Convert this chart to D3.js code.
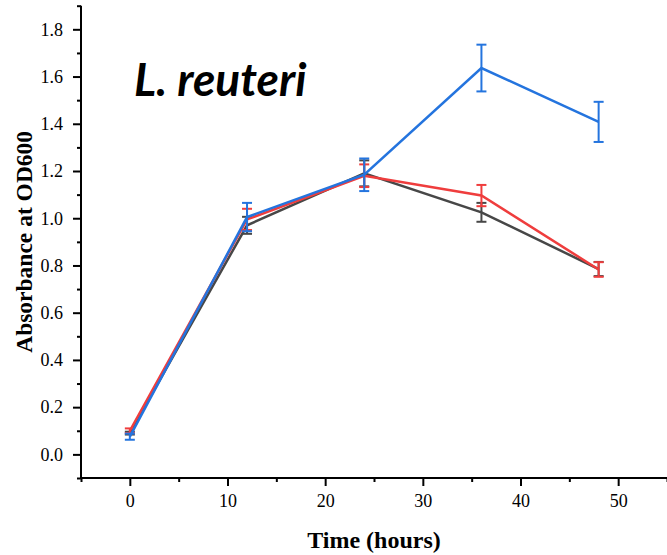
<!DOCTYPE html>
<html>
<head>
<meta charset="utf-8">
<script src="https://cdn.jsdelivr.net/npm/d3@7"></script>
<style>
  body { margin: 0; background: #fff; }
  svg { display: block; }
</style>
</head>
<body>
<div id="chart"></div>
<script>
// Données
const hours = [0, 12, 24, 36, 48];

const blackMean = [0.09, 0.97, 1.19, 1.025, 0.785];
const blackErr  = [0.006, 0.036, 0.055, 0.04, 0.03];

const redMean = [0.10, 0.995, 1.18, 1.096, 0.783];
const redErr  = [0.01, 0.045, 0.048, 0.045, 0.031];

const blueMean = [0.075, 1.005, 1.184, 1.636, 1.408];
const blueErr  = [0.013, 0.06, 0.069, 0.099, 0.085];

const yTicks = [0.0, 0.2, 0.4, 0.6, 0.8, 1.0, 1.2, 1.4, 1.6, 1.8];
const yMinor = [-0.1, 0.1, 0.3, 0.5, 0.7, 0.9, 1.1, 1.3, 1.5, 1.7, 1.9];
const xTicks = [0, 10, 20, 30, 40, 50];
const xMinor = [-5, 5, 15, 25, 35, 45, 55];

const series = [
  { name: "black", col: "#474747", mean: blackMean, err: blackErr },
  { name: "red", col: "#ef3d3d", mean: redMean, err: redErr },
  { name: "blue", col: "#2474de", mean: blueMean, err: blueErr }
];

//---------------------------------------------------------------------------------------

const width = 667;
const height = 555;

const svg = d3.select("#chart")
  .append("svg")
  .attr("width", width)
  .attr("height", height);

// échelles
const scaleX = d3.scaleLinear().domain([-5, 55]).range([81, 667]);
const scaleY = d3.scaleLinear().domain([-0.1, 1.9]).range([478, 5.7]);

const serif = "'Liberation Serif', 'Times New Roman', serif";

//---------------------------------------------------------------------------------------

// Axe des X
svg.append("g").attr("transform", `translate(0, ${scaleY(-0.1)})`)
  .call(d3.axisBottom(scaleX).tickValues(xTicks).tickSize(8).tickPadding(8).tickFormat(d3.format("d")))
  .attr("font-family", serif).attr("font-size", 18)
  .call(g => g.select(".domain").attr("stroke-width", 2).attr("d", `M${scaleX(-5)},0H${scaleX(55)}`))
  .call(g => g.selectAll(".tick line").attr("stroke-width", 2))
  .call(g => g.selectAll("text").attr("fill", "#000"));

svg.append("g").attr("transform", `translate(0, ${scaleY(-0.1)})`)
  .call(d3.axisBottom(scaleX).tickValues(xMinor).tickSize(4).tickFormat(""))
  .call(g => g.select(".domain").remove())
  .call(g => g.selectAll(".tick line").attr("stroke-width", 2));

// Axe des Y
svg.append("g").attr("transform", `translate(${scaleX(-5)}, 0)`)
  .call(d3.axisLeft(scaleY).tickValues(yTicks).tickSize(8).tickPadding(10).tickFormat(d3.format(".1f")))
  .attr("font-family", serif).attr("font-size", 18)
  .call(g => g.select(".domain").attr("stroke-width", 2).attr("d", `M0,${scaleY(-0.1)}V${scaleY(1.9)}`))
  .call(g => g.selectAll(".tick line").attr("stroke-width", 2))
  .call(g => g.selectAll("text").attr("fill", "#000"));

svg.append("g").attr("transform", `translate(${scaleX(-5)}, 0)`)
  .call(d3.axisLeft(scaleY).tickValues(yMinor).tickSize(4).tickFormat(""))
  .call(g => g.select(".domain").remove())
  .call(g => g.selectAll(".tick line").attr("stroke-width", 2));

// Titres des axes
svg.append("text")
  .attr("x", scaleX(25))
  .attr("y", 548)
  .attr("text-anchor", "middle")
  .attr("font-family", serif)
  .attr("font-weight", "bold")
  .attr("font-size", 24)
  .text("Time (hours)");

svg.append("text")
  .attr("transform", `translate(32, ${(scaleY(-0.1) + scaleY(1.9)) / 2}) rotate(-90)`)
  .attr("text-anchor", "middle")
  .attr("font-family", serif)
  .attr("font-weight", "bold")
  .attr("font-size", 23.5)
  .text("Absorbance at OD600");

// Annotation
svg.append("text")
  .attr("x", 134)
  .attr("y", 96)
  .attr("font-family", "Lato, 'Liberation Sans', sans-serif")
  .attr("font-weight", "bold")
  .attr("font-style", "italic")
  .attr("font-size", 46)
  .text("L. reuteri");

//---------------------------------------------------------------------------------------

// Courbes et barres d'erreur
const line = d3.line()
  .x((d, i) => scaleX(hours[i]))
  .y(d => scaleY(d));

series.forEach(s => {
  const g = svg.append("g");

  // barres d'erreur
  const eb = g.selectAll(".err")
    .data(hours)
    .join("g")
    .attr("stroke", s.col)
    .attr("stroke-width", 2);

  eb.append("line")
    .attr("x1", d => scaleX(d)).attr("x2", d => scaleX(d))
    .attr("y1", (d, i) => scaleY(s.mean[i] - s.err[i]))
    .attr("y2", (d, i) => scaleY(s.mean[i] + s.err[i]));

  eb.append("line")
    .attr("x1", d => scaleX(d) - 5).attr("x2", d => scaleX(d) + 5)
    .attr("y1", (d, i) => scaleY(s.mean[i] + s.err[i]))
    .attr("y2", (d, i) => scaleY(s.mean[i] + s.err[i]));

  eb.append("line")
    .attr("x1", d => scaleX(d) - 5).attr("x2", d => scaleX(d) + 5)
    .attr("y1", (d, i) => scaleY(s.mean[i] - s.err[i]))
    .attr("y2", (d, i) => scaleY(s.mean[i] - s.err[i]));

  g.append("path")
    .datum(s.mean)
    .attr("fill", "none")
    .attr("stroke", s.col)
    .attr("stroke-width", 2.5)
    .attr("d", line);
});
</script>
</body>
</html>
